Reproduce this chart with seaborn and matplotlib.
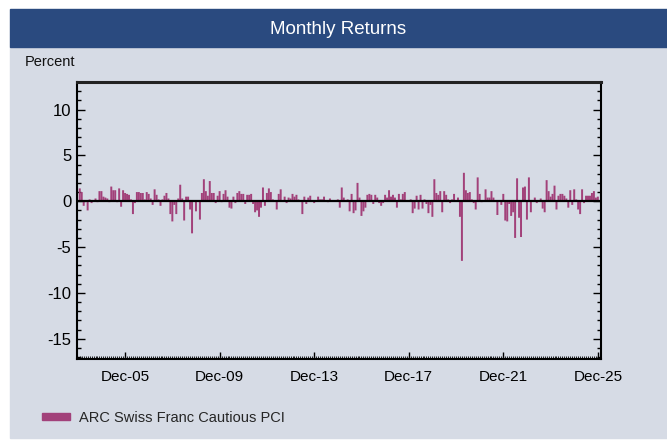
import numpy as np
import pandas as pd
import matplotlib
matplotlib.use("Agg")
import matplotlib.pyplot as plt
from matplotlib.patches import Rectangle, Patch
from matplotlib.ticker import MultipleLocator, FixedLocator
import seaborn as sns

# monthly returns in percent, Jan 2004 - Dec 2025
series_name = "ARC Swiss Franc Cautious PCI"
start_month = "2004-01"

r2004 = [1.4, 1.0, -0.5, 0.1, -1.0, 0.2, -0.2, 0.1, 0.3, -0.1, 1.1, 1.1]
r2005 = [0.5, 0.4, 0.3, -0.1, 1.6, 1.2, 1.2, -0.1, 1.4, -0.6, 1.2, 0.9]
r2006 = [0.8, 0.7, 0.2, -1.4, -0.2, 1.0, 1.0, 0.9, 0.9, 0.2, 1.0, 0.8]
r2007 = [0.3, -0.4, 1.3, 0.7, 0.2, -0.5, 0.2, 0.6, 0.9, 0.3, -1.4, -2.2]
r2008 = [-0.4, -1.4, 0.3, 1.8, 0.3, -2.1, 0.5, 0.5, -0.9, -3.5, 0.1, -1.1]
r2009 = [0.0, -2.0, 0.9, 2.4, 1.1, 0.6, 2.2, 0.9, 0.9, -0.2, 0.6, 1.1]
r2010 = [-0.1, 0.8, 1.2, 0.5, -0.7, -0.8, 0.5, -0.2, 0.9, 1.1, 0.8, 0.8]
r2011 = [-0.3, 0.7, 0.7, 0.8, -0.3, -1.2, -1.0, -1.7, -0.7, 1.5, -0.5, 0.9]
r2012 = [1.4, 1.0, 0.2, 0.0, -0.9, 0.8, 1.3, 0.05, 0.5, -0.2, 0.4, 0.3]
r2013 = [0.8, 0.5, 0.7, 0.2, 0.1, -1.4, 0.5, -0.3, 0.4, 0.6, 0.1, -0.2]
r2014 = [0.1, 0.5, 0.2, 0.2, 0.5, 0.1, -0.1, 0.3, 0.1, 0.1, 0.1, 0.2]
r2015 = [-0.7, 1.5, 0.4, 0.1, 0.2, -1.1, 0.8, -1.3, -1.0, 2.0, 0.4, -1.6]
r2016 = [-1.1, -0.7, 0.7, 0.8, 0.7, -0.3, 0.7, 0.4, -0.2, -0.5, -0.2, 0.7]
r2017 = [0.4, 1.2, 0.5, 0.7, 0.4, -0.7, 0.8, 0.2, 0.8, 1.0, 0.1, 0.0]
r2018 = [0.2, -1.3, -0.8, 0.6, -0.9, 0.7, -0.8, 0.2, -0.3, -1.3, -0.4, -1.7]
r2019 = [2.4, 0.9, 0.7, 1.1, -1.2, 1.1, 0.7, 0.2, -0.2, 0.2, 0.8, 0.1]
r2020 = [0.4, -1.7, -6.5, 3.1, 1.2, 0.9, 1.0, 0.2, -0.2, -0.9, 2.6, 0.8]
r2021 = [-0.1, 0.1, 1.3, 0.4, 0.4, 1.1, 0.4, 0.1, -1.5, 0.1, -0.4, 0.8]
r2022 = [-2.1, -2.2, -0.3, -1.6, -1.2, -4.0, 2.5, -1.8, -3.9, 1.5, 1.6, -2.0]
r2023 = [2.6, -1.2, 0.1, 0.4, -0.2, 0.1, 0.3, -0.8, -1.2, 2.3, 1.1, 0.5]
r2024 = [0.8, 1.7, -0.9, 0.6, 0.8, 0.8, 0.6, 0.3, -0.7, 1.2, -0.4, 1.3]
r2025 = [0.2, -0.9, -1.4, 1.3, -0.2, 0.6, 0.6, 0.6, 0.9, 1.1, 0.4, 0.5]

returns = (r2004 + r2005 + r2006 + r2007 + r2008 + r2009 + r2010 + r2011
           + r2012 + r2013 + r2014 + r2015 + r2016 + r2017 + r2018 + r2019
           + r2020 + r2021 + r2022 + r2023 + r2024 + r2025)

label_years = [2005, 2009, 2013, 2017, 2021, 2025]

months = pd.period_range(start_month, periods=len(returns), freq="M")
df = pd.DataFrame({"pos": np.arange(len(returns)), "ret": returns})

bar_color = "#a2417a"
panel_color = "#d6dbe5"
title_color = "#2a4a7f"

sns.set_style("ticks")
plt.rcParams["font.family"] = ["Liberation Sans Narrow", "Liberation Sans", "DejaVu Sans"]
plt.rcParams["axes.unicode_minus"] = False

W, H = 667, 440
fig = plt.figure(figsize=(W / 100, H / 100), dpi=100)
fig.patch.set_facecolor("white")

# background panel + title bar
fig.add_artist(Rectangle((10 / W, 1 - 438 / H), 657 / W, (438 - 47) / H,
                         transform=fig.transFigure, color=panel_color, zorder=-2))
fig.add_artist(Rectangle((10 / W, 1 - 47 / H), 657 / W, 38 / H,
                         transform=fig.transFigure, color=title_color, zorder=-2))
fig.text(338.5 / W, 1 - 29 / H, "Monthly Returns", color="white", fontsize=13.5,
         ha="center", va="center")
fig.text(25 / W, 1 - 62 / H, "Percent", color="#111111", fontsize=10.5,
         ha="left", va="center")

ax = fig.add_axes([77 / W, 1 - 359 / H, (601 - 77) / W, (359 - 82) / H])
ax.set_facecolor(panel_color)

sns.barplot(data=df, x="pos", y="ret", native_scale=True, color=bar_color,
            saturation=1, width=1.0, errorbar=None, ax=ax)

# plain filled bars, no outline, no pixel snapping
for p in ax.patches:
    p.set_edgecolor("none")
    p.set_linewidth(0)
    p.set_facecolor(bar_color)
    p.set_snap(False)

ax.axhline(0, color="black", lw=1.6, zorder=5)

ax.set_ylim(-17.2, 13)
ax.set_xlim(-1.4, len(returns) + 0.6)

ax.yaxis.set_major_locator(MultipleLocator(5))
ax.yaxis.set_minor_locator(MultipleLocator(1))
ax.tick_params(axis="y", which="both", direction="in", left=True, right=True,
               labelsize=12, colors="black", width=1, pad=4)
ax.tick_params(axis="y", which="major", length=6)
ax.tick_params(axis="y", which="minor", length=3)

tick_pos = [i for i, m in enumerate(months) if m.month == 12 and m.year in label_years]
tick_lab = [months[i].strftime("%b-%y") for i in tick_pos]
ax.xaxis.set_major_locator(FixedLocator(tick_pos))
ax.set_xticklabels(tick_lab)
ax.xaxis.set_minor_locator(FixedLocator(df["pos"].tolist()))
ax.tick_params(axis="x", which="both", direction="in", bottom=True, top=False,
               labelsize=11, colors="black", pad=8)
ax.tick_params(axis="x", which="major", length=5, width=1)
ax.tick_params(axis="x", which="minor", length=2, width=0.6)

ax.set_xlabel("")
ax.set_ylabel("")
for side in ["left", "right", "bottom"]:
    ax.spines[side].set_visible(True)
    ax.spines[side].set_color("black")
    ax.spines[side].set_linewidth(1.5)
ax.spines["top"].set_visible(True)
ax.spines["top"].set_color("#222222")
ax.spines["top"].set_linewidth(2.2)

fig.legend(handles=[Patch(color=bar_color, label=series_name)],
           loc="center left", bbox_to_anchor=(42 / W, 1 - 418 / H),
           frameon=False, fontsize=10.5, handlelength=1.9, handleheight=0.35,
           handletextpad=0.65, borderpad=0, borderaxespad=0)

fig.savefig("out.png", dpi=100, facecolor="white")
